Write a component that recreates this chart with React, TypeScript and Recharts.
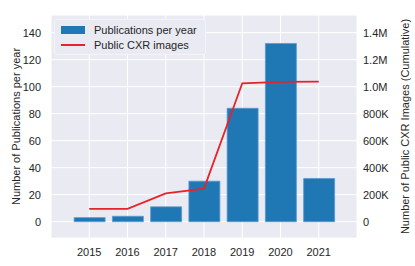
import React from 'react';
import {
  ComposedChart,
  Bar,
  Line,
  XAxis,
  YAxis,
  CartesianGrid,
  Label
} from 'recharts';

// values
const years = [2015, 2016, 2017, 2018, 2019, 2020, 2021];
const publications = [3, 4, 11, 30, 84, 132, 32];
const cxrImages = [95000, 95000, 210000, 245000, 1025000, 1035000, 1038000];

const leftTicks = [0, 20, 40, 60, 80, 100, 120, 140];
const rightTicks = [0, 200000, 400000, 600000, 800000, 1000000, 1200000, 1400000];

const data = years.map((year, i) => ({
  year,
  pubs: publications[i],
  images: cxrImages[i],
}));

const TEXT = '#262626';
const FONT = '"Liberation Sans", Arial, sans-serif';

const formatImages = (v: number) => {
  if (v === 0) return '0';
  if (v >= 1000000) return (v / 1000000).toFixed(1) + 'M';
  return Math.round(v / 1000) + 'K';
};

// legend drawn as a small framed box like matplotlib's, laid over the plot
const LegendBox = () => (
  <div
    style={{
      position: 'absolute',
      left: 54,
      top: 19,
      width: 150,
      height: 34,
      background: '#EAEAF2',
      border: '1px solid #f4f4f8',
      borderRadius: 3,
      fontFamily: FONT,
      fontSize: 11,
      color: TEXT,
    }}
  >
    <div style={{ position: 'absolute', left: 6, top: 6, width: 24, height: 8, background: '#1f77b4' }} />
    <div style={{ position: 'absolute', left: 39, top: 4, lineHeight: '12px' }}>Publications per year</div>
    <div style={{ position: 'absolute', left: 6, top: 24, width: 24, height: 2, background: '#e8222a' }} />
    <div style={{ position: 'absolute', left: 39, top: 19, lineHeight: '12px' }}>Public CXR images</div>
  </div>
);

const axisLabel = (text: string, cx: number) => (props: any) => {
  const vb = props.viewBox || {};
  const cy = (vb.y ?? 15) + (vb.height ?? 223) / 2;
  return (
    <text
      x={cx}
      y={cy}
      transform={`rotate(-90, ${cx}, ${cy})`}
      textAnchor="middle"
      dominantBaseline="central"
      fill={TEXT}
      fontSize={11}
      fontFamily={FONT}
    >
      {text}
    </text>
  );
};

export default function App() {
  return (
    <div style={{ position: 'absolute', left: 0, top: 0, width: 415, height: 266, background: '#fff' }}>
      <ComposedChart
        width={415}
        height={266}
        data={data}
        margin={{ top: 15, right: 10, bottom: 8, left: 11 }}
        style={{ fontFamily: FONT }}
      >
        <CartesianGrid
          yAxisId="left"
          fill="#EAEAF2"
          stroke="#ffffff"
          strokeWidth={1}
        />
        <XAxis
          dataKey="year"
          type="number"
          domain={[2014, 2022]}
          ticks={years}
          axisLine={false}
          tickLine={false}
          height={20}
          tick={{ fill: TEXT, fontSize: 11 }}
          tickMargin={4}
        />
        <YAxis
          yAxisId="left"
          domain={[-12.1, 153.1]}
          ticks={leftTicks}
          axisLine={false}
          tickLine={false}
          width={40}
          tick={{ fill: TEXT, fontSize: 11 }}
          tickMargin={4}
        >
          <Label content={axisLabel('Number of Publications per year', 16)} />
        </YAxis>
        <YAxis
          yAxisId="right"
          orientation="right"
          domain={[-121000, 1531000]}
          ticks={rightTicks}
          tickFormatter={formatImages}
          axisLine={false}
          tickLine={false}
          width={48}
          tick={{ fill: TEXT, fontSize: 11, textAnchor: 'start' }}
          tickMargin={0}
        >
          <Label content={axisLabel('Number of Public CXR Images (Cumulative)', 405)} />
        </YAxis>
        <Bar
          yAxisId="left"
          dataKey="pubs"
          name="Publications per year"
          fill="#1f77b4"
          stroke="#5b9bd0"
          strokeWidth={0.8}
          barSize={31}
          isAnimationActive={false}
        />
        <Line
          yAxisId="right"
          dataKey="images"
          name="Public CXR images"
          type="linear"
          stroke="#e8222a"
          strokeWidth={1.8}
          dot={false}
          isAnimationActive={false}
        />
      </ComposedChart>
      <LegendBox />
    </div>
  );
}
